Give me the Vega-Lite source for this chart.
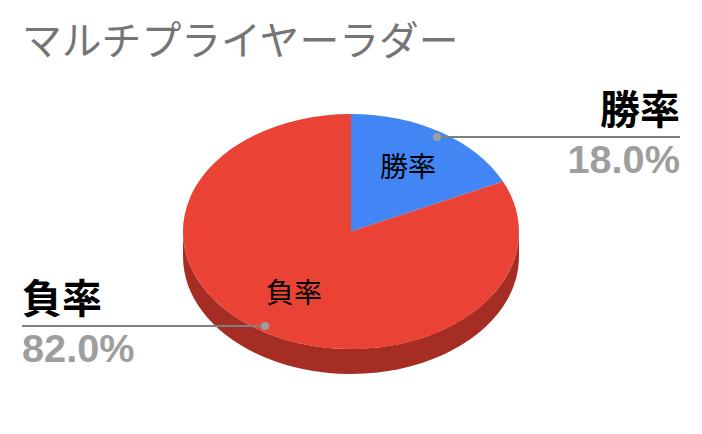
{
"$schema":"https://vega.github.io/schema/vega-lite/v6.json",
"width":702,"height":434,"padding":0,"autosize":"none",
"background":"#ffffff",
"view":{"stroke":null},
"title":{"text":"マルチプライヤーラダー","anchor":"start","frame":"group","orient":"top","offset":-95,"dx":22,"baseline":"alphabetic","font":"Noto Sans CJK JP","fontSize":39.8,"fontWeight":"normal","color":"#757575"},
"data":{"values":[{"name":"勝率","value":0.18},{"name":"負率","value":0.82}]},
"encoding":{
 "x":{"datum":351,"type":"quantitative","scale":{"domain":[0,702],"nice":false,"zero":false},"axis":null},
 "y":{"datum":231.5,"type":"quantitative","scale":{"domain":[0,434],"nice":false,"zero":false,"reverse":true},"axis":null}
},
"layer":[
 {"transform":[{"filter":"datum.name==='負率'"}],
  "mark":{"type":"point","filled":true,"opacity":1,"size":4,"color":"#a52d23","shape":"M-168,0 L-168,25 A168,117.5 0 0 0 168,25 L168,0 A168,117.5 0 0 1 -168,0 Z"}},
 {"mark":{"type":"point","filled":true,"opacity":1,"size":4},
  "encoding":{
   "shape":{"field":"name","type":"nominal","legend":null,"scale":{"domain":["勝率","負率"],"range":["M0,0 L0,-117.5 A168,117.5 0 0 1 152,-50 Z","M0,0 L152,-50 A168,117.5 0 1 1 0,-117.5 Z"]}},
   "color":{"field":"name","type":"nominal","legend":null,"scale":{"domain":["勝率","負率"],"range":["#4285f4","#ea4335"]}}
  }},
 {"transform":[{"filter":"datum.name==='勝率'"}],
  "layer":[
   {"mark":{"type":"rule","color":"#7f7f7f","strokeWidth":2},"encoding":{"x":{"datum":437},"x2":{"datum":680},"y":{"datum":137}}},
   {"mark":{"type":"circle","color":"#9e9e9e","opacity":1,"size":64},"encoding":{"x":{"datum":437},"y":{"datum":137}}},
   {"mark":{"type":"text","align":"center","baseline":"middle","font":"Noto Sans CJK JP","fontSize":28,"color":"#000000"},"encoding":{"x":{"datum":408},"y":{"datum":169},"text":{"field":"name"}}},
   {"mark":{"type":"text","align":"right","baseline":"middle","font":"Noto Sans CJK JP","fontWeight":"bold","fontSize":40,"color":"#000000"},"encoding":{"x":{"datum":680},"y":{"datum":112},"text":{"field":"name"}}},
   {"mark":{"type":"text","align":"right","baseline":"alphabetic","font":"Liberation Sans","fontWeight":"bold","fontSize":39.7,"color":"#9e9e9e"},"encoding":{"x":{"datum":680},"y":{"datum":173},"text":{"field":"value","type":"quantitative","format":".1%"}}}
  ]},
 {"transform":[{"filter":"datum.name==='負率'"}],
  "layer":[
   {"mark":{"type":"rule","color":"#7f7f7f","strokeWidth":2},"encoding":{"x":{"datum":22},"x2":{"datum":265},"y":{"datum":326}}},
   {"mark":{"type":"circle","color":"#9e9e9e","opacity":1,"size":64},"encoding":{"x":{"datum":265},"y":{"datum":326}}},
   {"mark":{"type":"text","align":"center","baseline":"middle","font":"Noto Sans CJK JP","fontSize":28,"color":"#000000"},"encoding":{"x":{"datum":294},"y":{"datum":295},"text":{"field":"name"}}},
   {"mark":{"type":"text","align":"left","baseline":"middle","font":"Noto Sans CJK JP","fontWeight":"bold","fontSize":40,"color":"#000000"},"encoding":{"x":{"datum":22},"y":{"datum":301},"text":{"field":"name"}}},
   {"mark":{"type":"text","align":"left","baseline":"alphabetic","font":"Liberation Sans","fontWeight":"bold","fontSize":39.7,"color":"#9e9e9e"},"encoding":{"x":{"datum":22},"y":{"datum":362},"text":{"field":"value","type":"quantitative","format":".1%"}}}
  ]}
]
}
